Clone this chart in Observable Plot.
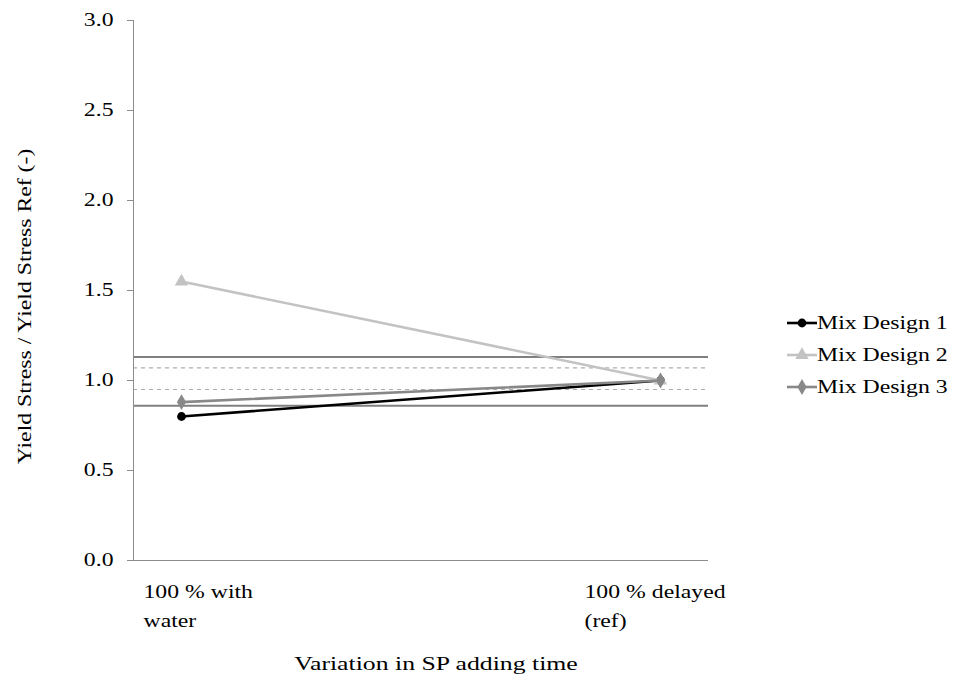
<!DOCTYPE html>
<html><head><meta charset="utf-8">
<script src="https://cdn.jsdelivr.net/npm/d3@7"></script>
<script src="https://cdn.jsdelivr.net/npm/@observablehq/plot@0.6"></script>
<style>
body{margin:0;background:#fff;font-family:"Liberation Serif","Times New Roman",serif;}
#wrap{position:relative;width:958px;height:681px;}
#legend{position:absolute;left:786px;top:307px;}
.row{height:32px;display:flex;align-items:center;}
.row svg{display:block;}
.row span{display:inline-block;font-size:18px;transform:scaleX(1.32);transform-origin:left center;color:#000;white-space:nowrap;}
</style></head><body><div id="wrap"></div>
<script>
const categories = ["100 % with water", "100 % delayed (ref)"];
const tickLabels = ["100 % with\nwater", "100 % delayed\n(ref)"];
const seriesNames = ["Mix Design 1", "Mix Design 2", "Mix Design 3"];
const mix1 = [0.80, 1.00];
const mix2 = [1.55, 1.00];
const mix3 = [0.88, 1.00];
const solidLimits = [1.13, 0.86];
const dashedLimits = [1.07, 0.95];
const yTicks = [0, 0.5, 1.0, 1.5, 2.0, 2.5, 3.0];
const colors = ["#000000", "#c3c3c3", "#888888"];
const symbols = ["circle", "triangle", "diamond"];
const radii = [4.4, 5, 4.8];

const seriesValues = [mix1, mix2, mix3];
const data = [];
seriesNames.forEach((s, i) => categories.forEach((c, j) => data.push({series: s, cat: c, value: seriesValues[i][j]})));

const seriesMarks = [];
seriesNames.forEach((s, i) => {
  const d = data.filter(r => r.series === s);
  seriesMarks.push(Plot.line(d, {x: "cat", y: "value", stroke: colors[i], strokeWidth: 2.6}));
  seriesMarks.push(Plot.dot(d, {x: "cat", y: "value", fill: colors[i], stroke: "none", symbol: () => symbols[i], r: radii[i]}));
});

const chart = Plot.plot({
  width: 958, height: 681,
  marginLeft: 133, marginRight: 250, marginTop: 20, marginBottom: 121,
  style: {fontFamily: "'Liberation Serif', serif", fontSize: "18px", color: "#000", background: "#fff", overflow: "visible"},
  x: {type: "point", domain: categories, padding: 0.1, axis: null},
  y: {domain: [0, 3], axis: null},
  symbol: {domain: symbols, range: symbols},
  marks: [
    Plot.ruleY(solidLimits, {stroke: "#808080", strokeWidth: 2}),
    Plot.ruleY(dashedLimits, {stroke: "#adadad", strokeWidth: 1.2, strokeDasharray: "4,4"}),
    Plot.ruleY([0], {stroke: "#8c8c8c", strokeWidth: 1}),
    Plot.frame({anchor: "left", stroke: "#8c8c8c"}),
    Plot.axisY({ticks: yTicks, tickFormat: d => d.toFixed(1), tickSize: 6, tickPadding: 14, stroke: "#8c8c8c", fill: "#000", label: null}),
    Plot.axisX([categories[0]], {tickSize: 0, tickPadding: 17, textAnchor: "start", dx: -38, lineHeight: 1.6, fill: "#000",
      tickFormat: d => tickLabels[categories.indexOf(d)], label: null}),
    Plot.axisX([categories[1]], {tickSize: 0, tickPadding: 17, textAnchor: "start", dx: -76, lineHeight: 1.6, fill: "#000",
      tickFormat: d => tickLabels[categories.indexOf(d)], label: null}),
    Plot.text(["Yield Stress / Yield Stress Ref (-)"], {frameAnchor: "left", rotate: -90, dx: -108, dy: 16, lineAnchor: "middle", textAnchor: "middle", fill: "#000"}),
    Plot.text(["Variation in SP adding time"], {frameAnchor: "bottom", dx: 15, dy: 103, fontSize: 19.5, lineAnchor: "middle", textAnchor: "middle", fill: "#000"}),
    ...seriesMarks
  ]
});

const wrap = document.getElementById("wrap");
wrap.appendChild(chart);

// widen glyphs horizontally to match the reference's wide text rendering
const STRETCH = 1.32;
chart.querySelectorAll("text").forEach(el => {
  const t = el.getAttribute("transform");
  if (t && /translate/.test(t)) {
    el.setAttribute("transform", t + ` scale(${STRETCH},1)`);
  } else if (!el.querySelector("tspan")) {
    const len = el.getComputedTextLength();
    el.setAttribute("textLength", len * STRETCH);
    el.setAttribute("lengthAdjust", "spacingAndGlyphs");
  }
});

const legend = document.createElement("div");
legend.id = "legend";
seriesNames.forEach((s, i) => {
  const row = document.createElement("div");
  row.className = "row";
  const svg = d3.create("svg").attr("width", 31).attr("height", 32);
  svg.append("line").attr("x1", 1).attr("x2", 31).attr("y1", 16).attr("y2", 16)
    .attr("stroke", colors[i]).attr("stroke-width", 2.6);
  const symType = {circle: d3.symbolCircle, triangle: d3.symbolTriangle, diamond: d3.symbolDiamond}[symbols[i]];
  svg.append("path").attr("transform", "translate(16,16)")
    .attr("d", d3.symbol(symType, Math.PI * radii[i] * radii[i])()).attr("fill", colors[i]);
  row.appendChild(svg.node());
  const span = document.createElement("span");
  span.textContent = s;
  row.appendChild(span);
  legend.appendChild(row);
});
wrap.appendChild(legend);
</script>
</body></html>
